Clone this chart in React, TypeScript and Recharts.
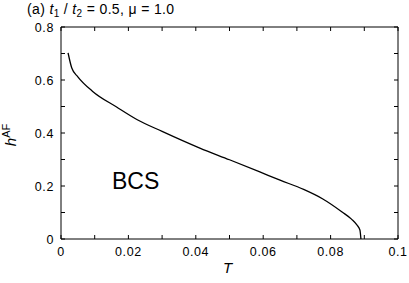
import React from "react";
import { LineChart, Line, XAxis, YAxis, ReferenceLine } from "recharts";

const temperatures = [0.0021, 0.0032, 0.005, 0.0094, 0.0165, 0.0225, 0.03, 0.0412, 0.05, 0.059, 0.065, 0.072, 0.0777, 0.0834, 0.0862, 0.0878, 0.0887, 0.089];
const hAF = [0.702, 0.645, 0.612, 0.557, 0.498, 0.451, 0.406, 0.343, 0.299, 0.253, 0.222, 0.187, 0.151, 0.102, 0.075, 0.053, 0.034, 0.0];

const xTicks = [0, 0.01, 0.02, 0.03, 0.04, 0.05, 0.06, 0.07, 0.08, 0.09, 0.1];
const xLabels: Record<string, string> = { "0": "0", "0.02": "0.02", "0.04": "0.04", "0.06": "0.06", "0.08": "0.08", "0.1": "0.1" };
const yTicks = [0, 0.1, 0.2, 0.3, 0.4, 0.5, 0.6, 0.7, 0.8];
const yLabels: Record<string, string> = { "0": "0", "0.2": "0.2", "0.4": "0.4", "0.6": "0.6", "0.8": "0.8" };

const data = temperatures.map((t, i) => ({ T: t, h: hAF[i] }));

const FONT = "'Liberation Sans', Arial, Helvetica, sans-serif";
const TL = 4;
const W = 409;
const H = 283;
const M = { top: 27, right: 11, bottom: 0, left: 0 };
const XAXIS_H = 44;
const YAXIS_W = 61;
const PLOT_W = W - M.left - M.right - YAXIS_W;
const PLOT_H = H - M.top - M.bottom - XAXIS_H;

const BottomTick = (props: any) => {
  const { x, y, payload } = props;
  const lbl = xLabels[String(payload.value)];
  return (
    <g>
      <path d={`M${x},${y}V${y - TL}M${x},${y - PLOT_H}V${y - PLOT_H + TL}`} stroke="#000" strokeWidth={1} fill="none" />
      {lbl !== undefined && (
        <text x={x} y={y + 16.5} textAnchor="middle" fontSize={12.5} letterSpacing={0.6} fontFamily={FONT} fill="#000">{lbl}</text>
      )}
    </g>
  );
};
const LeftTick = (props: any) => {
  const { x, y, payload } = props;
  const lbl = yLabels[String(payload.value)];
  return (
    <g>
      <path d={`M${x},${y}H${x + TL}M${x + PLOT_W},${y}H${x + PLOT_W - TL}`} stroke="#000" strokeWidth={1} fill="none" />
      {lbl !== undefined && (
        <text x={x - 7} y={y + 4.5} textAnchor="end" fontSize={12.5} letterSpacing={0.6} fontFamily={FONT} fill="#000">{lbl}</text>
      )}
    </g>
  );
};

export default function App() {
  return (
    <div style={{ position: "absolute", left: 0, top: 0, width: W, height: H, background: "#fff" }}>
      <div style={{ position: "absolute", left: 27, top: 1, fontFamily: FONT, fontSize: 14, letterSpacing: 0.35, lineHeight: "16px", whiteSpace: "nowrap", color: "#000" }}>
        (a) <i>t</i><sub style={{ fontSize: 10, verticalAlign: "-3px" }}>1</sub> / <i>t</i><sub style={{ fontSize: 10, verticalAlign: "-3px" }}>2</sub> = 0.5, μ = 1.0
      </div>
      <div style={{ position: "absolute", left: 0, top: 0 }}>
        <LineChart width={W} height={H} data={data} margin={M}>
          <XAxis dataKey="T" type="number" domain={[0, 0.1]} ticks={xTicks} interval={0}
            tickSize={0} tickMargin={0} tickLine={false} axisLine={{ stroke: "#000" }} height={XAXIS_H}
            tick={<BottomTick />} />
          <YAxis type="number" domain={[0, 0.8]} ticks={yTicks} interval={0}
            tickSize={0} tickMargin={0} tickLine={false} axisLine={{ stroke: "#000" }} width={YAXIS_W}
            tick={<LeftTick />} />
          <ReferenceLine y={0.8} stroke="#000" strokeWidth={1} />
          <ReferenceLine x={0.1} stroke="#000" strokeWidth={1} />
          <Line dataKey="h" type="monotone" stroke="#000" strokeWidth={1.3} dot={false} isAnimationActive={false} />
        </LineChart>
      </div>
      <div style={{ position: "absolute", left: 223, top: 259, fontFamily: FONT, fontSize: 15, fontStyle: "italic", lineHeight: "17px", color: "#000" }}>T</div>
      <div style={{ position: "absolute", left: 112, top: 168, fontFamily: FONT, fontSize: 23, lineHeight: "26px", color: "#000" }}>BCS</div>
      <div style={{ position: "absolute", left: 19, top: 135, width: 0, height: 0 }}>
        <div style={{ position: "absolute", left: 0, top: 0, transform: "translate(-50%, -100%) rotate(-90deg) translate(0, 0)", transformOrigin: "50% 100%", fontFamily: FONT, whiteSpace: "nowrap", lineHeight: "17px", color: "#000" }}>
          <i style={{ fontSize: 15 }}>h</i><sup style={{ fontSize: 11, verticalAlign: "6px" }}>AF</sup>
        </div>
      </div>
    </div>
  );
}
